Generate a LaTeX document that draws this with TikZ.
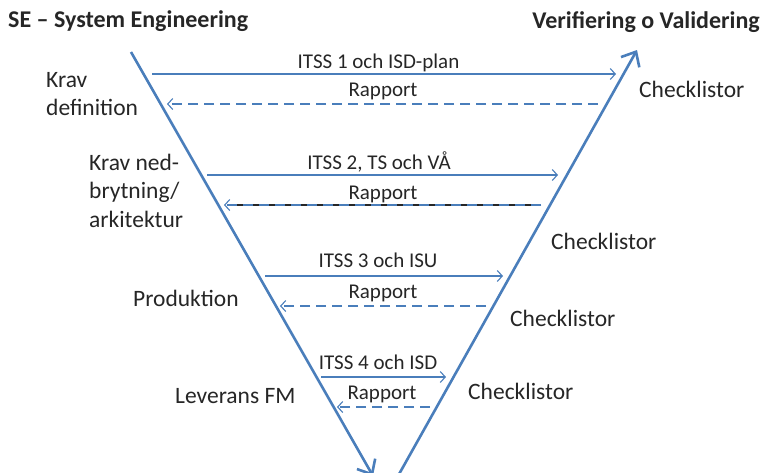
\documentclass[tikz,border=0pt]{standalone}
\usepackage{fontspec}
\setmainfont{Carlito}
\usetikzlibrary{arrows.meta}
\definecolor{vblue}{HTML}{4A7EBB}
\definecolor{txt}{HTML}{262626}
\tikzset{
  vline/.style={draw=vblue,line width=2.6pt,-{Straight Barb[length=12pt,width=21pt,line width=2.6pt]}},
  sendarrow/.style={draw=vblue,line width=1.1pt,-{Straight Barb[length=5pt,width=11pt,line width=1.1pt]}},
  reparrow/.style={draw=vblue,line width=1.1pt,dash pattern=on 10pt off 6pt,-{Straight Barb[length=5pt,width=11pt,line width=1.1pt]}},
  title/.style={text=txt,font=\fontsize{24}{28}\selectfont\bfseries,inner sep=0pt},
  body/.style={text=txt,font=\fontsize{23.5}{28}\selectfont,inner sep=0pt},
  lab/.style={text=txt,font=\fontsize{21}{25}\selectfont,inner sep=0pt},
}
\begin{document}
\begin{tikzpicture}[x=1pt,y=-1pt]
\useasboundingbox (0,0) rectangle (762,472);
% titles
\node[title,anchor=base west] (t1) at (8,27) {SE – System Engineering};
\node[title,anchor=base east] (t2) at (760,28) {Verifiering o Validering};
% V lines
\coordinate (ls) at (131,52);
\coordinate (le) at (373,476);
\coordinate (rs) at (398,476);
\coordinate (re) at (637,50);
\draw[vline] (ls) -- (le);
\draw[vline] (rs) -- (re);
% left labels
\node[body,anchor=base west] (k1a) at (46,87) {Krav};
\node[body,anchor=base west] (k1b) at (46,115) {definition};
\node[body,anchor=base west] (k2a) at (89,170) {Krav ned-};
\node[body,anchor=base west] (k2b) at (89,198) {brytning/};
\node[body,anchor=base west] (k2c) at (89,227) {arkitektur};
\node[body,anchor=base west] (k3) at (133,306) {Produktion};
\node[body,anchor=base west] (k4) at (175,403) {Leverans FM};
% right labels
\node[body,anchor=base west] (c1) at (639,97) {Checklistor};
\node[body,anchor=base west] (c2) at (551,249) {Checklistor};
\node[body,anchor=base west] (c3) at (510,326) {Checklistor};
\node[body,anchor=base west] (c4) at (468,399) {Checklistor};
% arrow endpoints
\coordinate (a1s) at (152,74);  \coordinate (a1e) at (616,74);
\coordinate (r1s) at (598,104); \coordinate (r1e) at (167,104);
\coordinate (a2s) at (207,175); \coordinate (a2e) at (558,175);
\coordinate (r2s) at (541,205); \coordinate (r2e) at (224,205);
\coordinate (a3s) at (265,276); \coordinate (a3e) at (503,276);
\coordinate (r3s) at (486,306); \coordinate (r3e) at (280,306);
\coordinate (a4s) at (321,377); \coordinate (a4e) at (446,377);
\coordinate (r4s) at (430,407); \coordinate (r4e) at (337,407);
% arrows
\draw[sendarrow] (a1s) -- (a1e);
\draw[reparrow] (r1s) -- (r1e);
\draw[sendarrow] (a2s) -- (a2e);
\draw[draw=txt,line width=1.1pt] (r2s) -- ([xshift=4pt]r2e);
\draw[reparrow] (r2s) -- (r2e);
\draw[sendarrow] (a3s) -- (a3e);
\draw[reparrow] (r3s) -- (r3e);
\draw[sendarrow] (a4s) -- (a4e);
\draw[reparrow] (r4s) -- (r4e);
% arrow labels
\node[lab,anchor=base] (l1) at (378.5,68) {ITSS 1 och ISD-plan};
\node[lab,anchor=base] (l2) at (383,96) {Rapport};
\node[lab,anchor=base] (l3) at (379,169) {ITSS 2, TS och VÅ};
\node[lab,anchor=base] (l4) at (383,199) {Rapport};
\node[lab,anchor=base] (l5) at (378,267) {ITSS 3 och ISU};
\node[lab,anchor=base] (l6) at (383,298) {Rapport};
\node[lab,anchor=base] (l7) at (378,369) {ITSS 4 och ISD};
\node[lab,anchor=base] (l8) at (382,399) {Rapport};
\end{tikzpicture}
\end{document}
